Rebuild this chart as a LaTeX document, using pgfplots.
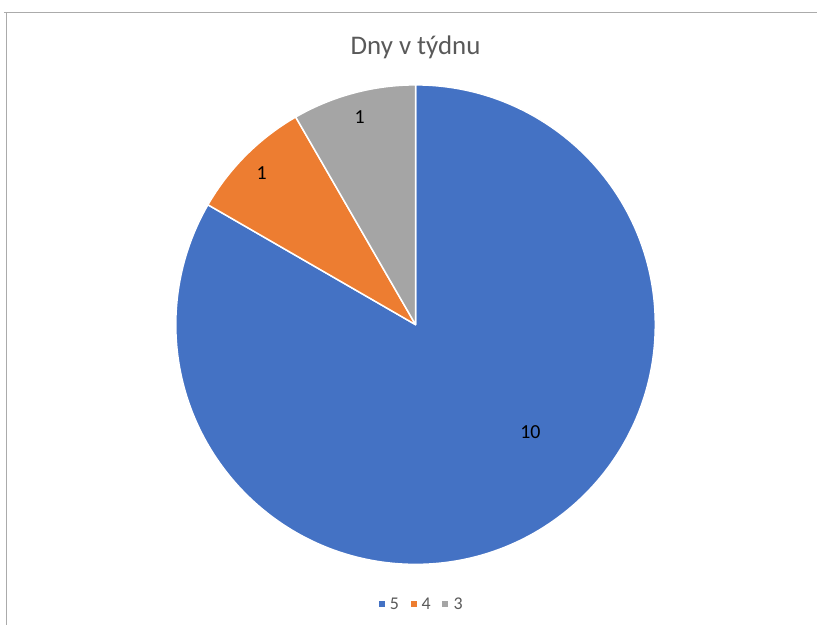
\documentclass[border=0pt]{standalone}
\usepackage{pgfplots}
\usepackage{pgfplotstable}
\pgfplotsset{compat=1.18}
\usepackage{fontspec}
\setmainfont{Carlito}
\definecolor{pblue}{HTML}{4472C4}
\definecolor{porange}{HTML}{ED7D31}
\definecolor{pgray}{HTML}{A5A5A5}
\definecolor{txtgray}{HTML}{595959}
\definecolor{bordergray}{HTML}{ABABAB}
\pgfplotstableread{
cat value
5 10
4 1
3 1
}\pietable
\begin{document}
\begin{tikzpicture}
\pgfplotstablegetelem{0}{value}\of\pietable \let\va\pgfplotsretval
\pgfplotstablegetelem{1}{value}\of\pietable \let\vb\pgfplotsretval
\pgfplotstablegetelem{2}{value}\of\pietable \let\vc\pgfplotsretval
\pgfmathsetmacro\total{\va+\vb+\vc}
\pgfmathsetmacro\aA{90}
\pgfmathsetmacro\aB{90-360*\va/\total}
\pgfmathsetmacro\aC{\aB-360*\vb/\total}
\pgfmathsetmacro\aD{\aC-360*\vc/\total}
\begin{axis}[
  hide axis, scale only axis,
  x=1bp, y=1bp,
  xmin=0, xmax=818, ymin=0, ymax=626,
  clip=false,
]
\path (axis cs:0,0) rectangle (axis cs:818,626);
% chart border
\draw[bordergray, line width=1.8bp] (axis cs:4,613.5) -- (axis cs:818,613.5);
\draw[bordergray, line width=1.8bp] (axis cs:6.5,613.5) -- (axis cs:6.5,0);
% title
\node[txtgray, font=\fontsize{27}{31}\selectfont] at (axis cs:416,579) {Dny v týdnu};
% pie sectors
\filldraw[fill=pblue, draw=white, line width=1.5bp, line join=round]
  (axis cs:416,301) -- ++(\aA:240bp) arc[start angle=\aA, end angle=\aB, radius=240bp] -- cycle;
\filldraw[fill=porange, draw=white, line width=1.5bp, line join=round]
  (axis cs:416,301) -- ++(\aB:240bp) arc[start angle=\aB, end angle=\aC, radius=240bp] -- cycle;
\filldraw[fill=pgray, draw=white, line width=1.5bp, line join=round]
  (axis cs:416,301) -- ++(\aC:240bp) arc[start angle=\aC, end angle=\aD, radius=240bp] -- cycle;
% data labels
\node[black, font=\fontsize{20}{23}\selectfont] at (axis cs:531,193) {\va};
\node[black, font=\fontsize{20}{23}\selectfont] at (axis cs:262,453) {\vb};
\node[black, font=\fontsize{20}{23}\selectfont] at (axis cs:360,509) {\vc};
% legend
\fill[pblue] (axis cs:379,18.5) rectangle (axis cs:385,24.5);
\node[txtgray, font=\fontsize{18}{21}\selectfont, anchor=west, inner sep=0pt] at (axis cs:390,21.5) {5};
\fill[porange] (axis cs:411,18.5) rectangle (axis cs:417,24.5);
\node[txtgray, font=\fontsize{18}{21}\selectfont, anchor=west, inner sep=0pt] at (axis cs:422,21.5) {4};
\fill[pgray] (axis cs:442,18.5) rectangle (axis cs:448,24.5);
\node[txtgray, font=\fontsize{18}{21}\selectfont, anchor=west, inner sep=0pt] at (axis cs:454,21.5) {3};
\end{axis}
\end{tikzpicture}
\end{document}
